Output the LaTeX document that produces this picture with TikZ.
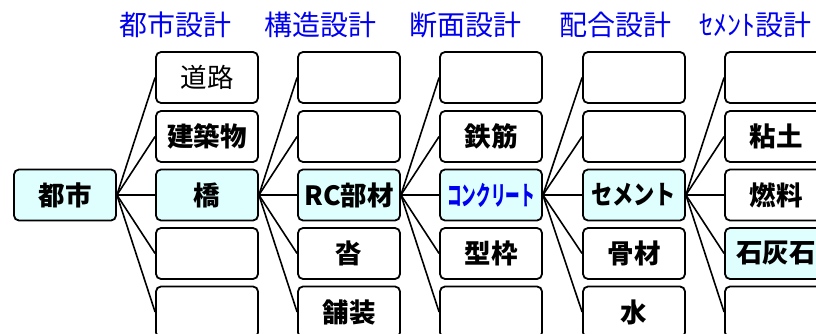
\documentclass[tikz,border=0pt]{standalone}
\usepackage{fontspec}
\setmainfont{Noto Sans CJK JP}
\definecolor{lc}{HTML}{DFFFFF}
\definecolor{hblue}{HTML}{0000F0}
\begin{document}
\begin{tikzpicture}[x=1pt,y=-1pt,
  box/.style={draw=black, line width=1.8pt, rounded corners=5pt, minimum width=102pt, minimum height=51pt, inner sep=0pt, fill=white, font=\fontsize{26.5}{26.5}\selectfont\bfseries},
  hl/.style={box, fill=lc},
  hdr/.style={text=hblue, font=\fontsize{28}{28}\selectfont, inner sep=0pt},
  link/.style={line width=1.6pt}]
\useasboundingbox (0,0) rectangle (816,334);
% headers
\node[hdr] (h1) at (175,25) {都市設計};
\node[hdr] (h2) at (320,25) {構造設計};
\node[hdr] (h3) at (465,25) {断面設計};
\node[hdr] (h4) at (615,25) {配合設計};
\node[hdr] (h5) at (755,25) {ｾﾒﾝﾄ設計};
% column 0
\node[hl] (c0) at (65,195) {都市};
% column 1
\node[box] (a1) at (207,77.5) {\mdseries 道路};
\node[box] (a2) at (207,136.5) {建築物};
\node[hl]  (a3) at (207,195) {橋};
\node[box] (a4) at (207,253.5) {};
\node[box] (a5) at (207,312) {};
% column 2
\node[box] (b1) at (349,77.5) {};
\node[box] (b2) at (349,136.5) {};
\node[hl]  (b3) at (349,195) {RC部材};
\node[box] (b4) at (349,253.5) {沓};
\node[box] (b5) at (349,312) {舗装};
% column 3
\node[box] (d1) at (491,77.5) {};
\node[box] (d2) at (491,136.5) {鉄筋};
\node[hl]  (d3) at (491,195) {\textcolor{hblue}{\scalebox{0.55}[1]{コンクリート}}};
\node[box] (d4) at (491,253.5) {型枠};
\node[box] (d5) at (491,312) {};
% column 4
\node[box] (e1) at (634,77.5) {};
\node[box] (e2) at (634,136.5) {};
\node[hl]  (e3) at (634,195) {\scalebox{0.8}[1]{セメント}};
\node[box] (e4) at (634,253.5) {骨材};
\node[box] (e5) at (634,312) {水};
% column 5
\node[box] (f1) at (776,77.5) {};
\node[box] (f2) at (776,136.5) {粘土};
\node[box] (f3) at (776,195) {燃料};
\node[hl]  (f4) at (776,253.5) {石灰石};
\node[box] (f5) at (776,312) {};
% connectors
\foreach \p/\c in {c0/a,a3/b,b3/d,d3/e,e3/f}{
  \foreach \i in {1,...,5}{
    \draw[link] (\p.east) -- (\c\i.west);
  }
}
\end{tikzpicture}
\end{document}
